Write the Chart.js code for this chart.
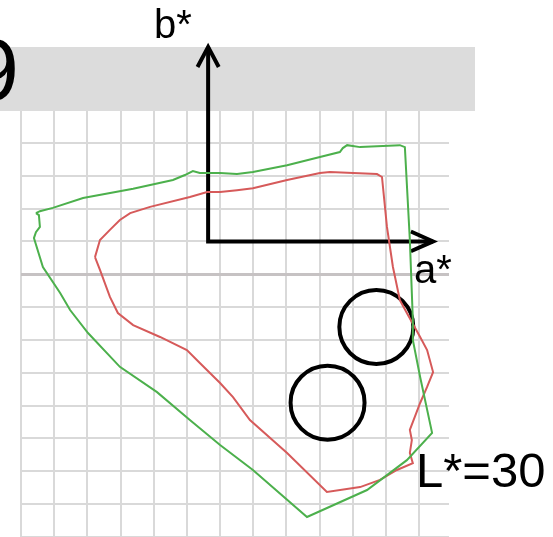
<!DOCTYPE html>
<html>
<head>
    <meta charset="UTF-8">
    <title>L*=30 gamut</title>
    <script src="https://cdn.jsdelivr.net/npm/chart.js"></script>
    <style>
        html, body { margin: 0; padding: 0; background: #ffffff; }
        canvas { display: block; }
    </style>
</head>
<body>
    <canvas id="myChart" width="553" height="537"></canvas>

    <script>
        // grid positions (one cell = 10 units)
        var gridTicksA = [0, 10, 20, 30, 40, 50, 60, 70, 80, 90, 100, 110, 120];
        var gridTicksB = [0, 10, 20, 30, 40, 50, 60, 70, 80, 90, 100, 110, 120];

        // outer (green) gamut outline
        var greenA = [4.5, 5.7, 9.6, 18.7, 33.8, 45.8, 49.4, 51.8, 53.9, 60.0, 65.1, 69.9, 80.2, 90.1, 96.1, 97.0, 98.3, 102.2, 114.2, 115.7,
                      117.2, 118.1, 118.1, 120.3, 123.9, 116.3, 104.3, 86.2, 69.9, 60.0, 50.9, 41.0, 29.8, 20.2, 14.8, 11.8, 6.6, 3.9, 4.5, 5.7, 5.4, 4.5];
        var greenB = [98.6, 99.2, 100.2, 103.2, 106.0, 108.7, 110.2, 111.4, 110.8, 110.8, 110.5, 111.1, 113.2, 115.7, 117.2, 118.4, 119.3, 118.7, 119.3, 118.7,
                      90.4, 66.1, 60.0, 48.7, 31.7, 23.4, 14.3, 6.1, 20.4, 28.0, 35.6, 44.1, 51.8, 62.1, 69.1, 74.3, 82.2, 91.0, 92.8, 94.4, 98.0, 98.6];

        // inner (red) gamut outline
        var redA = [22.3, 23.8, 26.8, 29.8, 32.9, 38.9, 50.9, 56.1, 60.0, 65.1, 69.9, 80.2, 90.1, 93.1, 100.1, 107.3, 108.8, 110.3, 112.1, 114.2,
                    116.3, 120.3, 122.4, 124.2, 122.4, 120.3, 117.2, 117.8, 117.2, 118.1, 113.3, 108.2, 102.2, 92.2, 80.2, 69.0, 63.9, 60.0, 53.9, 50.0,
                    41.9, 33.8, 29.2, 26.8, 23.8, 22.3];
        var redB = [85.2, 90.4, 93.5, 96.5, 98.6, 100.5, 103.5, 105.0, 105.0, 105.6, 106.2, 108.7, 110.8, 111.1, 110.8, 110.5, 109.6, 94.4, 82.2, 72.1,
                    68.2, 60.9, 56.9, 50.2, 45.7, 40.8, 32.6, 29.5, 25.6, 22.5, 20.4, 17.4, 15.2, 13.7, 25.6, 35.6, 42.6, 46.9, 53.0, 56.9,
                    60.9, 64.5, 68.2, 73.1, 81.3, 85.2];

        // marked circles (a, b)
        var circleA = [107.1, 63.9];
        var circleB = [92.4, 40.9];

        // a*/b* axes with arrow heads
        var axesA = [56.4, 56.4, 124.2];
        var axesB = [149.2, 90.0, 90.0];
        var headUpA = [53.2, 56.4, 59.6];
        var headUpB = [143.1, 149.2, 143.1];
        var headRightA = [117.5, 124.2, 117.5];
        var headRightB = [93.0, 90.0, 87.0];

        function toPoints(xs, ys) {
            var pts = [];
            for (var i = 0; i < xs.length; i++) {
                pts.push({ x: xs[i], y: ys[i] });
            }
            return pts;
        }

        function lineSet(xs, ys, color, width) {
            return {
                data: toPoints(xs, ys),
                showLine: true,
                borderColor: color,
                borderWidth: width,
                pointRadius: 0,
                tension: 0,
                fill: false,
                clip: false,
                borderJoinStyle: 'miter',
                borderCapStyle: 'butt'
            };
        }

        // gray title band plus text labels
        var decorations = {
            id: 'decorations',
            beforeDatasetsDraw: function (chart) {
                var ctx = chart.ctx;
                ctx.save();
                ctx.fillStyle = '#dcdcdc';
                ctx.fillRect(0, 47, 475, 64);
                ctx.restore();
            },
            afterDraw: function (chart) {
                var ctx = chart.ctx;
                ctx.save();
                ctx.fillStyle = '#000000';
                ctx.textBaseline = 'alphabetic';
                ctx.textAlign = 'right';
                ctx.font = '88px "Liberation Sans", Arial, sans-serif';
                ctx.fillText('9', 19, 100);
                ctx.textAlign = 'left';
                ctx.font = '40px "Liberation Sans", Arial, sans-serif';
                ctx.fillText('b*', 154, 38);
                ctx.fillText('a*', 414, 283);
                ctx.font = '49px "Liberation Sans", Arial, sans-serif';
                ctx.fillText('L*=30', 416, 487);
                ctx.restore();
            }
        };

        function gridColor(c) {
            return c.tick && c.tick.value === 80 && c.scale.axis === 'y' ? '#c6c2c3' : '#d9d9d9';
        }
        function gridWidth(c) {
            return c.tick && c.tick.value === 80 && c.scale.axis === 'y' ? 3 : 2;
        }

        var ctx = document.getElementById("myChart").getContext("2d");
        var myChart = new Chart(ctx, {
            type: 'scatter',
            data: {
                datasets: [
                    lineSet(greenA, greenB, '#4cb04c', 2),
                    lineSet(redA, redB, '#d65a5a', 2),
                    {
                        data: toPoints([circleA[0], circleB[0]], [circleA[1], circleB[1]]),
                        pointStyle: 'circle',
                        pointRadius: 37,
                        borderWidth: 4,
                        borderColor: '#000000',
                        backgroundColor: 'rgba(0,0,0,0)',
                        clip: false
                    },
                    lineSet(axesA, axesB, '#000000', 4),
                    lineSet(headUpA, headUpB, '#000000', 4),
                    lineSet(headRightA, headRightB, '#000000', 4)
                ]
            },
            options: {
                responsive: false,
                animation: false,
                events: [],
                layout: { autoPadding: false, padding: { left: 21, right: 104, top: 110, bottom: 0 } },
                plugins: {
                    legend: { display: false },
                    tooltip: { enabled: false }
                },
                scales: {
                    x: {
                        type: 'linear',
                        min: 0,
                        max: 129,
                        afterBuildTicks: function (scale) {
                            scale.ticks = gridTicksA.map(function (v) { return { value: v }; });
                        },
                        afterFit: function (scale) { scale.height = 0; },
                        ticks: { display: false },
                        grid: { color: gridColor, lineWidth: gridWidth, drawTicks: false },
                        border: { display: false }
                    },
                    y: {
                        type: 'linear',
                        min: 0,
                        max: 130,
                        afterBuildTicks: function (scale) {
                            scale.ticks = gridTicksB.map(function (v) { return { value: v }; });
                        },
                        afterFit: function (scale) { scale.width = 0; },
                        ticks: { display: false },
                        grid: { color: gridColor, lineWidth: gridWidth, drawTicks: false },
                        border: { display: false }
                    }
                }
            },
            plugins: [decorations]
        });
    </script>
</body>
</html>
